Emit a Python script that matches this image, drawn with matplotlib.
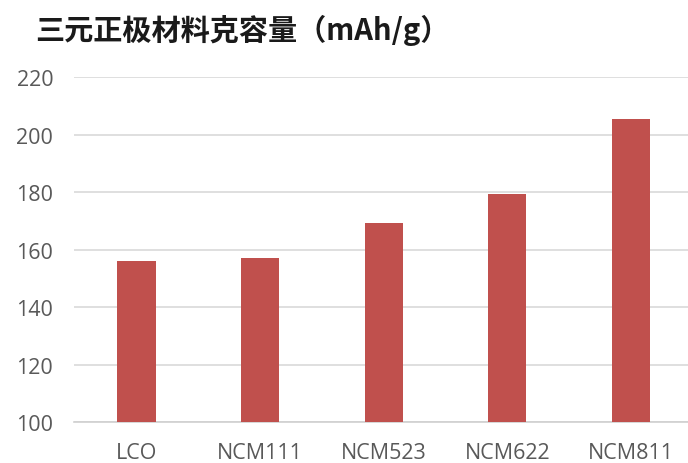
import matplotlib
matplotlib.use("Agg")
import matplotlib.pyplot as plt

plt.rcParams['font.family'] = ['Noto Sans CJK SC', 'DejaVu Sans']

# specific capacity of cathode materials (mAh/g)
materials = ["LCO", "NCM111", "NCM523", "NCM622", "NCM811"]
capacity = [156.0, 157.1, 169.2, 179.4, 205.5]
y_ticks = [100, 120, 140, 160, 180, 200, 220]

W, H = 688, 464
fig = plt.figure(figsize=(W / 100, H / 100), dpi=100)
ax = fig.add_axes([74 / W, 1 - 423.3 / H, (W - 74) / W, (423.3 - 78.3) / H])

x = list(range(len(materials)))
ax.bar(x, capacity, width=0.31, color="#C0504D", zorder=3)

ax.set_ylim(100, 220)
ax.set_xlim(-0.506, 4.462)
ax.set_yticks(y_ticks)
ax.set_xticks(x)
ax.set_xticklabels(materials)

ax.grid(axis="y", color="#D9D9D9", linewidth=1.2, zorder=0)
for side in ["top", "right", "left"]:
    ax.spines[side].set_visible(False)
ax.spines["bottom"].set_color("#D0D0D0")
ax.spines["bottom"].set_linewidth(1.2)

ax.tick_params(axis="both", length=0, colors="#595959", labelsize=15.5)
ax.tick_params(axis="y", pad=15)
ax.tick_params(axis="x", pad=14)
for lbl in ax.get_xticklabels() + ax.get_yticklabels():
    lbl.set_family(["Open Sans", "DejaVu Sans"])

fig.text(35 / W, 1 - 30 / H, "三元正极材料克容量（mAh/g）", fontsize=21,
         fontweight="bold", color="#1a1a1a", ha="left", va="center")

fig.savefig("out.png", dpi=100)
